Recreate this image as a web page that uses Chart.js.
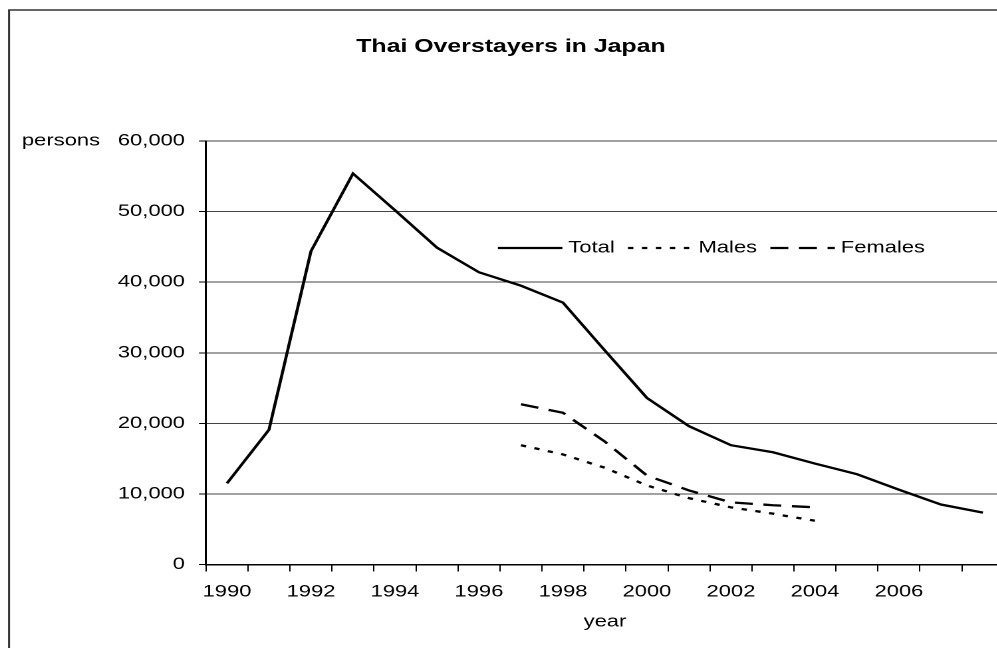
<!DOCTYPE html>
<html>
<head>
<meta charset="utf-8">
<title>Thai Overstayers in Japan</title>
<script src="https://cdn.jsdelivr.net/npm/chart.js@4"></script>
<style>
  html, body { margin: 0; padding: 0; background: #fff; overflow: hidden; }
  #wrap { width: 997px; height: 648px; overflow: hidden; }
  canvas { display: block; }
</style>
</head>
<body>
<div id="wrap">
  <!-- drawn on a 767px-wide canvas and widened to 1020px by CSS, giving the wide lettering -->
  <canvas id="chart" width="767" height="648" style="width:1020px;height:648px"></canvas>
</div>
<script>
// ---- data ----
const years = [1990, 1991, 1992, 1993, 1994, 1995, 1996, 1997, 1998, 1999,
               2000, 2001, 2002, 2003, 2004, 2005, 2006, 2007, 2008];

const totalPersons = [11500, 19100, 44400, 55400, 50200, 44900, 41400, 39500, 37100, 30300,
                      23600, 19600, 16900, 15900, 14300, 12800, 10600, 8500, 7350];

const malePersons = [null, null, null, null, null, null, null,
                     16900, 15600, 13700, 11200, 9400, 8100, 7200, 6200,
                     null, null, null, null];

const femalePersons = [null, null, null, null, null, null, null,
                       22700, 21500, 17400, 12600, 10500, 8800, 8400, 8100,
                       null, null, null, null];

const yTickValues = [0, 10000, 20000, 30000, 40000, 50000, 60000];
const seriesNames = ['Total', 'Males', 'Females'];

// ---- styling / layout (canvas units) ----
const FONT = "'Liberation Sans', Arial, Helvetica, sans-serif";
const TEXT_SIZE = 16.5;
const INK = '#000';

Chart.defaults.font.family = FONT;
Chart.defaults.color = INK;

// white background and the outer chart border
const framePlugin = {
  id: 'frame',
  beforeDraw(chart) {
    const { ctx, width, height } = chart;
    ctx.save();
    ctx.fillStyle = '#fff';
    ctx.fillRect(0, 0, width, height);
    ctx.strokeStyle = '#333';
    ctx.lineWidth = 1.5;
    ctx.strokeRect(6.8, 10, width + 20, height + 20);
    ctx.restore();
  }
};

// unit caption beside the top value of the y axis
const unitPlugin = {
  id: 'unitCaption',
  afterDraw(chart) {
    const { ctx } = chart;
    const y = chart.scales.y.getPixelForValue(60000);
    ctx.save();
    ctx.font = `${TEXT_SIZE}px ${FONT}`;
    ctx.fillStyle = INK;
    ctx.textAlign = 'left';
    ctx.textBaseline = 'middle';
    ctx.fillText('persons', 16.5, y);
    ctx.restore();
  }
};

// one-row legend placed inside the plot area
const insideLegend = {
  id: 'insideLegend',
  afterDatasetsDraw(chart) {
    const { ctx } = chart;
    const sample = 48.5;
    let x = 374.4;
    const y = 248;
    ctx.save();
    ctx.font = `${TEXT_SIZE}px ${FONT}`;
    ctx.fillStyle = INK;
    ctx.textAlign = 'left';
    ctx.textBaseline = 'middle';
    chart.data.datasets.forEach(ds => {
      ctx.strokeStyle = ds.borderColor;
      ctx.lineWidth = ds.borderWidth;
      ctx.setLineDash(ds.borderDash || []);
      ctx.beginPath();
      ctx.moveTo(x, y);
      ctx.lineTo(x + sample, y);
      ctx.stroke();
      ctx.setLineDash([]);
      x += sample + 4.5;
      ctx.fillText(ds.label, x, y);
      x += ctx.measureText(ds.label).width + 10;
    });
    ctx.restore();
  }
};

const lineStyle = (dash) => ({
  borderColor: INK,
  borderWidth: 2.3,
  borderDash: dash,
  pointRadius: 0,
  fill: false,
  tension: 0
});

new Chart(document.getElementById('chart'), {
  type: 'line',
  data: {
    labels: years.map(String),
    datasets: [
      { label: seriesNames[0], data: totalPersons, ...lineStyle([]) },
      { label: seriesNames[1], data: malePersons, ...lineStyle([4, 6.5]) },
      { label: seriesNames[2], data: femalePersons, ...lineStyle([13.5, 8]) }
    ]
  },
  options: {
    responsive: false,
    animation: false,
    devicePixelRatio: 2,
    events: [],
    layout: { padding: { top: 0, left: 13.5, right: 12.1, bottom: 0 } },
    plugins: {
      legend: { display: false },
      tooltip: { enabled: false },
      title: {
        display: true,
        text: 'Thai Overstayers in Japan',
        color: INK,
        font: { size: 18.7, weight: 'bold' },
        padding: { top: 35.8, bottom: 82.8 }
      }
    },
    scales: {
      x: {
        offset: true,
        grid: {
          offset: true,
          drawOnChartArea: false,
          drawTicks: true,
          tickLength: 7,
          tickColor: INK,
          tickWidth: 1
        },
        border: { color: INK, width: 1.5 },
        ticks: {
          autoSkip: false,
          maxRotation: 0,
          minRotation: 0,
          padding: 10.6,
          color: INK,
          font: { size: TEXT_SIZE },
          callback: (value, index) =>
            (index % 2 === 0 && index < years.length - 1) ? String(years[index]) : ''
        },
        title: {
          display: true,
          text: 'year',
          color: INK,
          font: { size: TEXT_SIZE },
          padding: { top: 0, bottom: 16.1 }
        },
        afterFit: scale => { scale.height = 83.5; }
      },
      y: {
        min: yTickValues[0],
        max: yTickValues[yTickValues.length - 1],
        afterBuildTicks: scale => { scale.ticks = yTickValues.map(v => ({ value: v })); },
        grid: {
          color: '#444',
          lineWidth: 1,
          drawTicks: true,
          tickLength: 5.3,
          tickColor: INK,
          tickWidth: 1
        },
        border: { color: INK, width: 1.5 },
        ticks: {
          padding: 10.5,
          color: INK,
          font: { size: TEXT_SIZE },
          callback: v => Number(v).toLocaleString('en-US')
        },
        afterFit: scale => { scale.width = 141.4; }
      }
    }
  },
  plugins: [framePlugin, unitPlugin, insideLegend]
});
</script>
</body>
</html>
